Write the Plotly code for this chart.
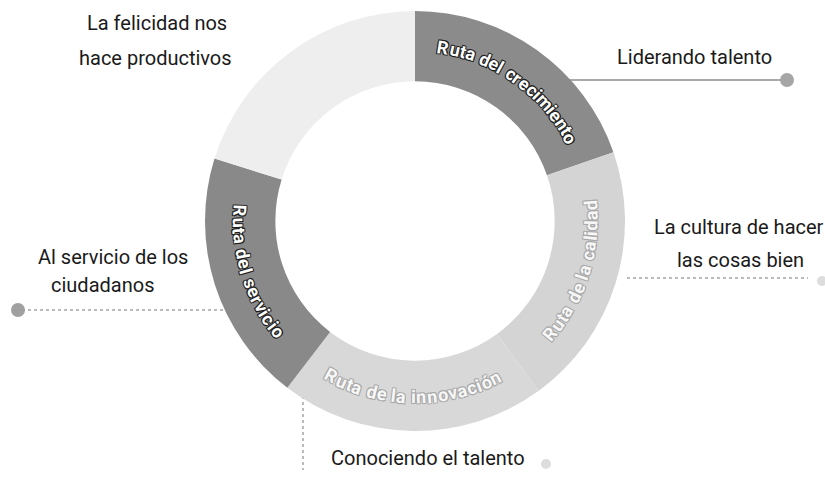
import math
import plotly.graph_objects as go

W, H = 825, 490

# ---- data ----
segments = ["Ruta del crecimiento", "Ruta de la calidad", "Ruta de la innovación",
            "Ruta del servicio", "Ruta del bienestar"]
shares = [19.7, 20.3, 20.4, 19.4, 20.2]
seg_labels = ["Ruta del crecimiento", "Ruta de la calidad", "Ruta de la innovación",
              "Ruta del servicio", ""]
callout_lines_text = [["Liderando talento"],
                      ["La cultura de hacer", "las cosas bien"],
                      ["Conociendo el talento"],
                      ["Al servicio de los", "ciudadanos"],
                      ["La felicidad nos", "hace productivos"]]

# ---- style ----
seg_colors = ["#8b8b8b", "#d4d4d4", "#d8d8d8", "#898989", "#eeeeee"]
dark_flags = [True, False, False, True, False]
CX, CY, R_OUT, HOLE = 415, 221, 210, 0.665
R_TEXT = 176
FONT = "Roboto, Lato, Arial, sans-serif"

fig = go.Figure()

fig.add_trace(go.Pie(
    labels=segments, values=shares, sort=False, direction="clockwise", rotation=0,
    hole=HOLE, marker=dict(colors=seg_colors, line=dict(width=0)),
    textinfo="none", hoverinfo="skip", showlegend=False,
    domain=dict(x=[(CX - R_OUT) / W, (CX + R_OUT) / W],
                y=[(H - CY - R_OUT) / H, (H - CY + R_OUT) / H]),
))

# ---- curved segment labels (per character) ----
EM = {'a': .556, 'b': .611, 'c': .556, 'd': .611, 'e': .556, 'f': .333, 'g': .611, 'h': .611,
      'i': .278, 'j': .278, 'k': .556, 'l': .278, 'm': .889, 'n': .611, 'o': .611, 'p': .611,
      'q': .611, 'r': .389, 's': .556, 't': .333, 'u': .611, 'v': .556, 'w': .778, 'x': .556,
      'y': .556, 'z': .5, ' ': .278, 'R': .722, 'ó': .611, 'á': .556}

annotations = []
cum = 0.0
total = sum(shares)
for i, (txt, v) in enumerate(zip(seg_labels, shares)):
    a0 = cum / total * 360
    cum += v
    a1 = cum / total * 360
    mid = (a0 + a1) / 2
    if not txt:
        continue
    dark = dark_flags[i]
    size = 18
    widths = [EM.get(c, .6) * 0.98 * size for c in txt]
    span = sum(widths) / R_TEXT * 180 / math.pi
    outward = mid < 90  # top arc reads clockwise with tops outward
    pos = -span / 2
    for c, w in zip(txt, widths):
        off = pos + w / 2 * 180 / math.pi / R_TEXT
        pos += w * 180 / math.pi / R_TEXT
        if c == ' ':
            continue
        if outward:
            th = mid + off
            ang = th
        else:
            th = mid - off
            ang = th - 180
        x = CX + R_TEXT * math.sin(math.radians(th))
        y = CY - R_TEXT * math.cos(math.radians(th))
        sh = "#1e1e1e" if dark else "#a8a8a8"
        annotations.append(dict(
            x=x, y=y, xref="x", yref="y", text=c, showarrow=False, textangle=ang,
            xanchor="center", yanchor="middle",
            font=dict(family=FONT, size=size, weight="bold",
                      color="#ffffff" if dark else "#f7f7f7",
                      shadow=f"-1px -1px 0 {sh}, 1px -1px 0 {sh}, -1px 1px 0 {sh}, 1px 1px 0 {sh}"),
        ))

# ---- callout lines ----
callout_lines = [
    dict(xs=[568, 783], ys=[80, 80], dash="solid", color="#555555", dot=(787, 80, 14, "#a6a6a6")),
    dict(xs=[627, 808], ys=[278, 278], dash="dot", color="#777777", dot=(822, 281, 10, "#dddddd")),
    dict(xs=[303, 303], ys=[384, 470], dash="dot", color="#777777", dot=(546, 464, 10, "#dddddd")),
    dict(xs=[22, 224], ys=[310, 310], dash="dot", color="#777777", dot=(18, 310, 14, "#a0a0a0")),
    dict(xs=[337, 414], ys=[78, 78], dash="dot", color="#c8c8c8", dot=None),
]
for cl in callout_lines:
    fig.add_trace(go.Scatter(x=cl["xs"], y=cl["ys"], mode="lines",
                             line=dict(color=cl["color"], width=1, dash=cl["dash"]),
                             hoverinfo="skip", showlegend=False))
    if cl["dot"]:
        dx, dy, ds, dc = cl["dot"]
        fig.add_trace(go.Scatter(x=[dx], y=[dy], mode="markers",
                                 marker=dict(size=ds, color=dc, line=dict(width=0)),
                                 hoverinfo="skip", showlegend=False))

# label line positions (centre x, centre y per line)
label_pos = [[(694, 57)],
             [(739, 227), (740, 260)],
             [(428, 458)],
             [(113, 257), (102, 285)],
             [(157, 23), (155, 58)]]
for lines, poss in zip(callout_lines_text, label_pos):
    for t, (lx, ly) in zip(lines, poss):
        annotations.append(dict(x=lx, y=ly, xref="x", yref="y", text=t, showarrow=False,
                                xanchor="center", yanchor="middle", align="center",
                                font=dict(family=FONT, size=20, color="#1a1a1a")))

fig.update_layout(
    width=W, height=H, margin=dict(l=0, r=0, t=0, b=0),
    paper_bgcolor="white", plot_bgcolor="rgba(0,0,0,0)",
    xaxis=dict(range=[0, W], visible=False, fixedrange=True, domain=[0, 1]),
    yaxis=dict(range=[H, 0], visible=False, fixedrange=True, domain=[0, 1]),
    annotations=annotations,
)

fig.write_html("out.html", config={"displayModeBar": False},
               post_script="document.body.style.margin='0';")
